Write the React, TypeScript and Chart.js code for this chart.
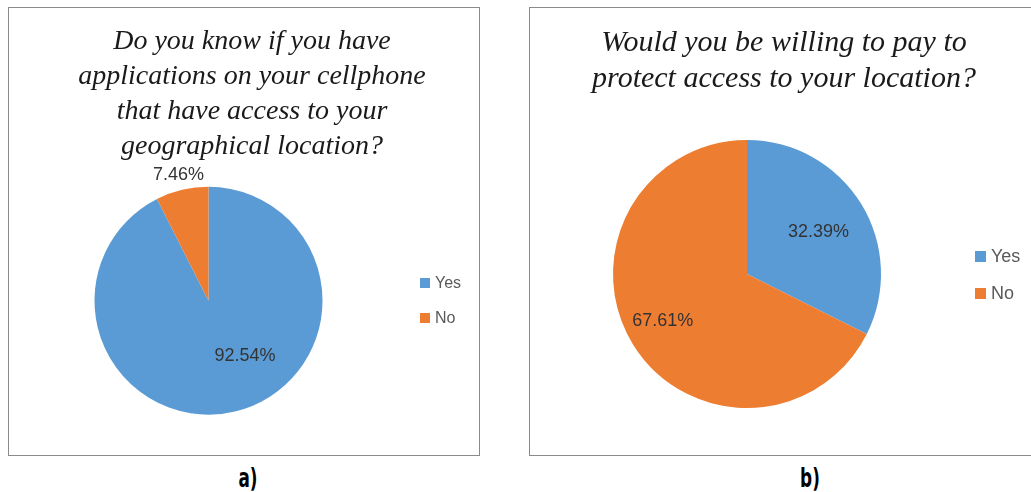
import React, { useEffect, useRef } from "react";
import { Chart, registerables } from "chart.js";

Chart.register(...registerables);

const categories = ["Yes", "No"];
const appsAccessValues = [92.54, 7.46];
const payToProtectValues = [32.39, 67.61];
const titleA = [
  "Do you know if you have",
  "applications on your cellphone",
  "that have access to your",
  "geographical location?",
];
const titleB = ["Would you be willing to pay to", "protect access to your location?"];
const panelLabels = ["a)", "b)"];
const sliceColors = ["#5B9BD5", "#ED7D31"];

type LabelPlace = { frac: number; nudge: number };

const pctLabelPlugin = {
  id: "pctLabels",
  afterDatasetsDraw(chart: any, _args: any, opts: any) {
    const ctx = chart.ctx;
    const meta = chart.getDatasetMeta(0);
    const data = chart.data.datasets[0].data as number[];
    const places: LabelPlace[] = opts.places || [];
    ctx.save();
    ctx.font = `${opts.size || 18}px "Liberation Sans", Arial, sans-serif`;
    ctx.fillStyle = "#333333";
    ctx.textAlign = "center";
    ctx.textBaseline = "middle";
    meta.data.forEach((arc: any, i: number) => {
      const p = arc.getProps(["x", "y", "startAngle", "endAngle", "outerRadius"], true);
      const pl = places[i] || { frac: 0.6, nudge: 0 };
      const mid = (p.startAngle + p.endAngle) / 2 + (pl.nudge * Math.PI) / 180;
      const r = p.outerRadius * pl.frac;
      const x = p.x + Math.cos(mid) * r;
      const y = p.y + Math.sin(mid) * r;
      ctx.fillText(data[i].toFixed(2) + "%", x, y);
    });
    ctx.restore();
  },
};

function PieCanvas(props: {
  values: number[];
  width: number;
  height: number;
  padding: { left: number; top: number; right: number; bottom: number };
  places: LabelPlace[];
  labelSize: number;
}) {
  const ref = useRef<HTMLCanvasElement | null>(null);
  useEffect(() => {
    if (!ref.current) return;
    const chart = new Chart(ref.current, {
      type: "pie",
      data: {
        labels: categories,
        datasets: [
          {
            data: props.values,
            backgroundColor: sliceColors,
            borderWidth: 0,
          },
        ],
      },
      options: {
        animation: false,
        responsive: false,
        maintainAspectRatio: false,
        layout: { padding: props.padding },
        plugins: {
          legend: { display: false },
          title: { display: false },
          tooltip: { enabled: false },
          pctLabels: { places: props.places, size: props.labelSize },
        } as any,
      },
      plugins: [pctLabelPlugin],
    });
    return () => chart.destroy();
  }, []);
  return (
    <canvas
      ref={ref}
      width={props.width}
      height={props.height}
      style={{ position: "absolute", left: 0, top: 0, width: props.width, height: props.height }}
    />
  );
}

function Legend(props: { left: number; top: number; gap: number; size: number; box: number }) {
  return (
    <>
      {categories.map((c, i) => (
        <div
          key={c}
          style={{
            position: "absolute",
            left: props.left,
            top: props.top + i * props.gap - props.size * 0.6,
            height: props.size * 1.2,
            display: "flex",
            alignItems: "center",
            font: `${props.size}px "Liberation Sans", Arial, sans-serif`,
            color: "#595959",
            whiteSpace: "nowrap",
          }}
        >
          <span
            style={{
              display: "inline-block",
              width: props.box,
              height: props.box,
              background: sliceColors[i],
              marginRight: 5,
            }}
          />
          {c}
        </div>
      ))}
    </>
  );
}

function Title(props: { lines: string[]; cx: number; top: number; size: number; lh: number }) {
  return (
    <div
      style={{
        position: "absolute",
        left: props.cx - 250,
        width: 500,
        top: props.top,
        textAlign: "center",
        font: `italic ${props.size}px "Liberation Serif", "Times New Roman", serif`,
        lineHeight: props.lh + "px",
        color: "#1a1a1a",
        whiteSpace: "nowrap",
      }}
    >
      {props.lines.map((l) => (
        <div key={l}>{l}</div>
      ))}
    </div>
  );
}

export default function App() {
  return (
    <div
      style={{
        position: "absolute",
        left: 0,
        top: 0,
        width: 1031,
        height: 492,
        overflow: "hidden",
        background: "#fff",
      }}
    >
      <div
        style={{
          position: "absolute",
          left: 8,
          top: 7,
          width: 472,
          height: 449,
          boxSizing: "border-box",
          border: "1px solid #8a8a8a",
          overflow: "hidden",
        }}
      >
        <PieCanvas
          values={appsAccessValues}
          width={470}
          height={447}
          padding={{ left: 85.5, top: 178.7, right: 156.5, bottom: 40.3 }}
          places={[
            { frac: 0.58, nudge: -20 },
            { frac: 1.13, nudge: 0 },
          ]}
          labelSize={18}
        />
        <Title lines={titleA} cx={243} top={14} size={28} lh={35} />
        <Legend left={411} top={275} gap={35} size={16} box={10} />
      </div>
      <div
        style={{
          position: "absolute",
          left: 529,
          top: 7,
          width: 520,
          height: 449,
          boxSizing: "border-box",
          border: "1px solid #8a8a8a",
          overflow: "hidden",
        }}
      >
        <PieCanvas
          values={payToProtectValues}
          width={501}
          height={447}
          padding={{ left: 83, top: 132, right: 150, bottom: 47 }}
          places={[
            { frac: 0.62, nudge: 1 },
            { frac: 0.72, nudge: 2.5 },
          ]}
          labelSize={18}
        />
        <Title lines={titleB} cx={254} top={15} size={30} lh={36} />
        <Legend left={445} top={249} gap={37} size={18} box={11} />
      </div>
      {panelLabels.map((t, i) => (
        <div
          key={t}
          style={{
            position: "absolute",
            left: (i === 0 ? 248 : 810) - 40,
            width: 80,
            top: 463,
            textAlign: "center",
            font: `bold 26px "DejaVu Sans Condensed", "DejaVu Sans", sans-serif`,
            fontStretch: "condensed",
            lineHeight: "30px",
            color: "#000",
            transform: "scaleX(0.72)",
          }}
        >
          {t}
        </div>
      ))}
    </div>
  );
}
